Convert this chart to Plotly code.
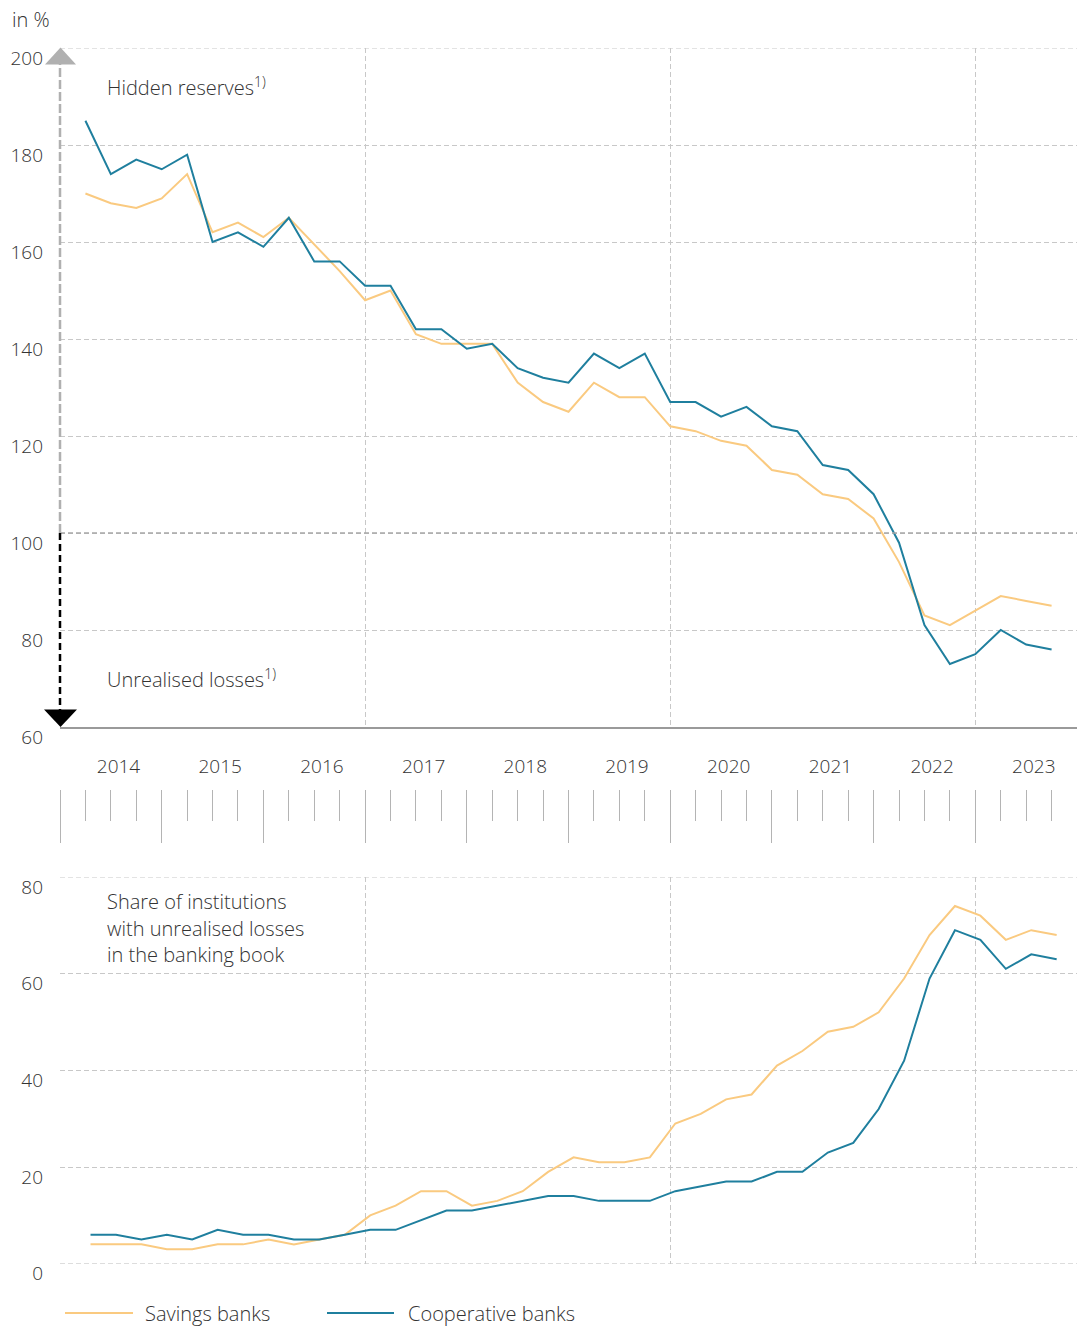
import plotly.graph_objects as go

# ---------------- data ----------------
years = [str(y) for y in range(2014, 2024)]
quarters = [f"{y} Q{q}" for y in range(2014, 2024) for q in range(1, 5)][:39]

# Hidden reserves / unrealised losses (in %)
savings_reserves = [170, 168, 167, 169, 174, 162, 164, 161, 165, 159.5,
                    154, 148, 150, 141, 139, 139, 139, 131, 127, 125,
                    131, 128, 128, 122, 121, 119, 118, 113, 112, 108,
                    107, 103, 94, 83, 81, 84, 87, 86, 85]
coop_reserves = [185, 174, 177, 175, 178, 160, 162, 159, 165, 156,
                 156, 151, 151, 142, 142, 138, 139, 134, 132, 131,
                 137, 134, 137, 127, 127, 124, 126, 122, 121, 114,
                 113, 108, 98, 81, 73, 75, 80, 77, 76]

# Share of institutions with unrealised losses in the banking book (in %)
savings_share = [4, 4, 4, 3, 3, 4, 4, 5, 4, 5,
                 6, 10, 12, 15, 15, 12, 13, 15, 19, 22,
                 21, 21, 22, 29, 31, 34, 35, 41, 44, 48,
                 49, 52, 59, 68, 74, 72, 67, 69, 68]
coop_share = [6, 6, 5, 6, 5, 7, 6, 6, 5, 5,
              6, 7, 7, 9, 11, 11, 12, 13, 14, 14,
              13, 13, 13, 15, 16, 17, 17, 19, 19, 23,
              25, 32, 42, 59, 69, 67, 61, 64, 63]

top_ticks = [60, 80, 100, 120, 140, 160, 180, 200]
bottom_ticks = [0, 20, 40, 60, 80]

# ---------------- styling ----------------
W, H = 1077, 1327
ORANGE = "#FACA80"
TEAL = "#1F7F9E"
GRID = "#c8c8c8"
TEXT = "#333333"
FONT = "Open Sans"
FS = 19
WT = 300
DASH = "5px,3px"


def pxx(x):
    return x / W


def pxy(y):
    return 1 - y / H


top_range = [60, 200]
top_dom = [pxy(727), pxy(48)]
bot_range = [0, 80]
bot_dom = [pxy(1263.7), pxy(877)]


def top_val(v):
    return top_dom[0] + (v - top_range[0]) / (top_range[1] - top_range[0]) * (top_dom[1] - top_dom[0])


x_top = [i + 1 for i in range(len(quarters))]
x_bot = [i + 1.2 for i in range(len(quarters))]
n_q = 40

fig = go.Figure()
fig.add_trace(go.Scatter(x=x_top, y=savings_reserves, mode="lines", name="Savings banks",
                         line=dict(color=ORANGE, width=2), xaxis="x", yaxis="y",
                         text=quarters, showlegend=False))
fig.add_trace(go.Scatter(x=x_top, y=coop_reserves, mode="lines", name="Cooperative banks",
                         line=dict(color=TEAL, width=2), xaxis="x", yaxis="y",
                         text=quarters, showlegend=False))
fig.add_trace(go.Scatter(x=x_bot, y=savings_share, mode="lines", name="Savings banks",
                         line=dict(color=ORANGE, width=2), xaxis="x2", yaxis="y2",
                         text=quarters, showlegend=False))
fig.add_trace(go.Scatter(x=x_bot, y=coop_share, mode="lines", name="Cooperative banks",
                         line=dict(color=TEAL, width=2), xaxis="x2", yaxis="y2",
                         text=quarters, showlegend=False))
# empty helper trace so the quarter tick strip subplot is drawn
fig.add_trace(go.Scatter(x=[None], y=[None], mode="lines", xaxis="x3", yaxis="y3",
                         showlegend=False, hoverinfo="skip"))

year_pos = [4 * k + 2.3 for k in range(len(years))]
boundaries = [12, 24, 36]
tfont = dict(family=FONT, size=FS, color=TEXT, weight=WT)
afont = dict(family=FONT, size=20, color=TEXT, weight=WT)

common_y = dict(ticks="", ticklabelposition="outside", ticklabelstandoff=16,
                ticklabelshift=10,
                tickfont=tfont,
                showgrid=True, gridcolor=GRID, gridwidth=1, griddash=DASH,
                zeroline=False, showline=False, fixedrange=True, automargin=False)

fig.update_layout(
    template="none",
    width=W, height=H,
    margin=dict(l=0, r=0, t=0, b=0, pad=0),
    paper_bgcolor="white", plot_bgcolor="white",
    showlegend=False,
    font=tfont,
    xaxis=dict(domain=[pxx(60), 1], range=[0, n_q], anchor="y", automargin=False,
               tickvals=year_pos, ticktext=years, ticks="", ticklabelstandoff=21,
               tickfont=tfont, fixedrange=True,
               showgrid=False, zeroline=False,
               showline=True, linecolor="#9a9a9a", linewidth=1.5,
               minor=dict(tickvals=boundaries, showgrid=True, gridcolor=GRID,
                          griddash=DASH, gridwidth=1, ticks="")),
    yaxis=dict(domain=top_dom, range=top_range, anchor="x", tickvals=top_ticks, **common_y),
    xaxis2=dict(domain=[pxx(60), 1], range=[0, n_q], anchor="y2", automargin=False,
                showticklabels=False, ticks="", showgrid=False, zeroline=False, showline=False,
                fixedrange=True,
                minor=dict(tickvals=boundaries, showgrid=True, gridcolor=GRID,
                           griddash=DASH, gridwidth=1, ticks="")),
    yaxis2=dict(domain=bot_dom, range=bot_range, anchor="x2", tickvals=bottom_ticks, **common_y),
    xaxis3=dict(domain=[pxx(60), 1], range=[0, n_q], anchor="y3", automargin=False,
                showticklabels=False, showgrid=False, zeroline=False, showline=False,
                fixedrange=True,
                tickvals=list(range(0, n_q, 4)), ticks="outside", ticklen=53,
                tickcolor="#b4b4b4", tickwidth=1,
                minor=dict(tickvals=[q for q in range(1, n_q) if q % 4], ticks="outside",
                           ticklen=31, tickcolor="#b4b4b4", tickwidth=1)),
    yaxis3=dict(domain=[pxy(789), pxy(785)], range=[0, 1], anchor="x3",
                showticklabels=False, showgrid=False, zeroline=False, showline=False,
                ticks="", automargin=False, fixedrange=True),
)

shapes = []
# gridlines at the panel limits (plotly omits grid lines at the range ends)
for yref, val in (("y", top_range[1]), ("y2", bot_range[1]), ("y2", bot_range[0])):
    shapes.append(dict(type="line", xref="paper", yref=yref, x0=pxx(60), x1=1, y0=val, y1=val,
                       line=dict(color=GRID, width=1, dash=DASH), layer="below"))
# darker 100 line
shapes.append(dict(type="line", xref="paper", yref="y", x0=pxx(60), x1=1, y0=100, y1=100,
                   line=dict(color="#a8a8a8", width=1.5, dash=DASH), layer="above"))
# vertical arrow: grey dashed (hidden reserves) up, black dashed (losses) down
shapes.append(dict(type="line", xref="paper", yref="paper", x0=pxx(60), x1=pxx(60),
                   y0=top_val(100), y1=top_val(196.8),
                   line=dict(color="#b0b0b0", width=2.5, dash="9px,3px"), layer="above"))
shapes.append(dict(type="line", xref="paper", yref="paper", x0=pxx(60), x1=pxx(60),
                   y0=top_val(100), y1=top_val(63.5),
                   line=dict(color="#000000", width=2.5, dash="7px,4px"), layer="above"))
gy_base, gy_tip = top_val(196.6), top_val(200.1)
shapes.append(dict(type="path", xref="paper", yref="paper",
                   path=f"M {pxx(45)},{gy_base} L {pxx(76)},{gy_base} L {pxx(60.5)},{gy_tip} Z",
                   fillcolor="#b0b0b0", line=dict(width=0), layer="above"))
by_base, by_tip = top_val(63.6), top_val(60)
shapes.append(dict(type="path", xref="paper", yref="paper",
                   path=f"M {pxx(44)},{by_base} L {pxx(77)},{by_base} L {pxx(60.5)},{by_tip} Z",
                   fillcolor="#000000", line=dict(width=0), layer="above"))
# legend lines
shapes.append(dict(type="line", xref="paper", yref="paper", x0=pxx(65), x1=pxx(133),
                   y0=pxy(1313), y1=pxy(1313), line=dict(color=ORANGE, width=2)))
shapes.append(dict(type="line", xref="paper", yref="paper", x0=pxx(327), x1=pxx(394),
                   y0=pxy(1313), y1=pxy(1313), line=dict(color=TEAL, width=2)))
fig.update_layout(shapes=shapes)

annos = []


def txt(x, y, s, anchor="left", yanchor="middle"):
    annos.append(dict(xref="paper", yref="paper", x=pxx(x), y=pxy(y), text=s,
                      showarrow=False, xanchor=anchor, yanchor=yanchor, align="left",
                      font=afont))


txt(10, 19, "in %")
txt(105, 87, "Hidden reserves<sup>1)</sup>")
txt(105, 678, "Unrealised losses<sup>1)</sup>")
txt(105, 902, "Share of institutions")
txt(105, 928, "with unrealised losses")
txt(105, 954, "in the banking book")
txt(143, 1313, "Savings banks")
txt(406, 1313, "Cooperative banks")
fig.update_layout(annotations=annos)

fig.write_html("out.html", post_script="document.body.style.margin='0';",
               config={"displayModeBar": False})
